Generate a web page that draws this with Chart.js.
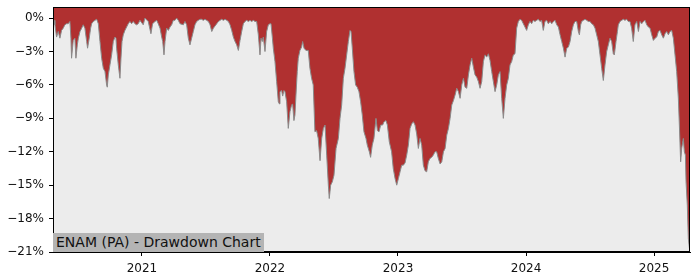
<!DOCTYPE html>
<html>
<head>
<meta charset="utf-8">
<script src="https://cdn.jsdelivr.net/npm/chart.js@4/dist/chart.umd.min.js"></script>
<style>
  html, body { margin: 0; padding: 0; background: #ffffff; }
  #wrap { position: relative; width: 700px; height: 280px; }
  #title {
    position: absolute; left: 53px; top: 233px; height: 19px; line-height: 19px;
    padding: 0 3px 0 3px; background: #b4b4b4; color: #111;
    font-family: "DejaVu Sans", sans-serif; font-size: 14px; white-space: nowrap;
  }
</style>
</head>
<body>
<div id="wrap">
  <canvas id="c" width="700" height="280"></canvas>
  <div id="title">ENAM (PA) - Drawdown Chart</div>
</div>
<script>
// Dates as decimal years, drawdown in percent
const years = [
2020.305,2020.313,2020.320,2020.333,2020.346,2020.359,2020.372,2020.385,2020.398,2020.411,
2020.424,2020.437,2020.445,2020.450,2020.463,2020.476,2020.484,2020.495,2020.503,2020.516,
2020.529,2020.541,2020.554,2020.568,2020.575,2020.588,2020.599,2020.607,2020.620,2020.633,
2020.646,2020.659,2020.672,2020.685,2020.698,2020.711,2020.724,2020.729,2020.737,2020.750,
2020.763,2020.776,2020.789,2020.797,2020.802,2020.815,2020.828,2020.836,2020.844,2020.854,
2020.867,2020.880,2020.893,2020.906,2020.919,2020.932,2020.945,2020.958,2020.971,2020.984,
2021.010,2021.023,2021.049,2021.070,2021.083,2021.102,2021.115,2021.127,2021.141,2021.154,
2021.162,2021.172,2021.180,2021.193,2021.206,2021.219,2021.232,2021.245,2021.258,2021.271,
2021.284,2021.297,2021.323,2021.336,2021.349,2021.362,2021.375,2021.388,2021.401,2021.414,
2021.427,2021.440,2021.453,2021.466,2021.479,2021.492,2021.505,2021.519,2021.532,2021.545,
2021.558,2021.571,2021.584,2021.597,2021.610,2021.623,2021.636,2021.649,2021.662,2021.675,
2021.688,2021.701,2021.714,2021.727,2021.740,2021.753,2021.766,2021.779,2021.792,2021.805,
2021.818,2021.831,2021.844,2021.857,2021.870,2021.883,2021.896,2021.909,2021.922,2021.930,
2021.940,2021.948,2021.961,2021.974,2021.987,2022.000,2022.008,2022.019,2022.026,2022.039,
2022.052,2022.065,2022.073,2022.078,2022.091,2022.099,2022.109,2022.117,2022.130,2022.143,
2022.156,2022.169,2022.177,2022.187,2022.195,2022.203,2022.213,2022.221,2022.234,2022.247,
2022.255,2022.266,2022.281,2022.299,2022.312,2022.325,2022.338,2022.351,2022.364,2022.377,
2022.391,2022.404,2022.417,2022.430,2022.443,2022.456,2022.463,2022.474,2022.487,2022.500,
2022.516,2022.534,2022.547,2022.560,2022.573,2022.586,2022.599,2022.612,2022.625,2022.633,
2022.643,2022.656,2022.669,2022.682,2022.695,2022.708,2022.721,2022.734,2022.750,2022.760,
2022.776,2022.786,2022.799,2022.812,2022.828,2022.839,2022.852,2022.865,2022.880,2022.891,
2022.906,2022.917,2022.932,2022.950,2022.963,2022.977,2022.990,2023.003,2023.016,2023.029,
2023.042,2023.055,2023.068,2023.081,2023.094,2023.107,2023.120,2023.133,2023.146,2023.159,
2023.172,2023.185,2023.198,2023.211,2023.224,2023.237,2023.250,2023.263,2023.276,2023.289,
2023.302,2023.315,2023.329,2023.342,2023.355,2023.368,2023.381,2023.394,2023.407,2023.420,
2023.433,2023.446,2023.459,2023.472,2023.485,2023.498,2023.511,2023.524,2023.537,2023.550,
2023.563,2023.576,2023.589,2023.602,2023.615,2023.628,2023.641,2023.654,2023.667,2023.680,
2023.693,2023.706,2023.719,2023.732,2023.745,2023.758,2023.771,2023.784,2023.797,2023.810,
2023.823,2023.836,2023.849,2023.862,2023.875,2023.888,2023.901,2023.914,2023.927,2023.940,
2023.953,2023.966,2023.979,2023.992,2024.005,2024.018,2024.031,2024.044,2024.057,2024.070,
2024.083,2024.096,2024.109,2024.122,2024.135,2024.148,2024.161,2024.174,2024.188,2024.201,
2024.214,2024.227,2024.240,2024.253,2024.266,2024.279,2024.292,2024.305,2024.318,2024.331,
2024.344,2024.357,2024.370,2024.383,2024.396,2024.409,2024.417,2024.427,2024.435,2024.448,
2024.461,2024.474,2024.487,2024.500,2024.513,2024.526,2024.539,2024.552,2024.565,2024.578,
2024.591,2024.604,2024.617,2024.630,2024.643,2024.656,2024.669,2024.682,2024.690,2024.703,
2024.714,2024.721,2024.734,2024.747,2024.760,2024.773,2024.786,2024.799,2024.812,2024.825,
2024.838,2024.851,2024.865,2024.878,2024.891,2024.904,2024.917,2024.930,2024.943,2024.956,
2024.969,2024.982,2024.995,2025.008,2025.021,2025.034,2025.047,2025.060,2025.073,2025.086,
2025.099,2025.112,2025.125,2025.138,2025.151,2025.164,2025.177,2025.190,2025.198,2025.208,
2025.216,2025.229,2025.237,2025.245,2025.250,2025.260,2025.268,2025.278
];
const drawdown = [
0,-0.2,-0.6,-1.7,-1.2,-1.8,-1.1,-0.9,-0.6,-0.5,
-0.5,-0.3,-1.8,-3.6,-2.0,-1.8,-3.6,-2.4,-1.8,-1.2,
-0.9,-0.6,-0.9,-2.1,-2.7,-1.8,-0.9,-0.5,-0.3,-0.2,
-0.1,-0.5,-2.1,-3.6,-4.5,-4.8,-6.0,-6.2,-5.1,-4.2,
-3.3,-2.1,-1.7,-1.8,-2.7,-4.2,-5.4,-3.6,-2.1,-1.5,
-1.1,-0.8,-0.5,-0.3,-0.5,-0.3,-0.5,-0.6,-0.5,-0.2,
-0.6,0,-0.3,-1.4,-0.5,-0.3,-0.2,-0.5,-0.9,-1.7,
-2.1,-3.3,-2.1,-0.9,-1.1,-0.8,-0.6,-0.2,-0.2,0,
-0.2,-0.5,-0.6,-0.3,-0.6,-1.8,-2.4,-1.8,-1.2,-0.6,
-0.3,-0.2,-0.1,-0.1,-0.2,-0.1,-0.2,-0.3,-0.6,-1.2,
-0.9,-0.7,-0.5,-0.3,-0.2,-0.1,-0.2,-0.1,-0.2,-0.3,
-0.6,-1.1,-1.7,-2.1,-2.4,-2.9,-2.0,-1.2,-0.5,-0.3,
-0.2,-0.3,-0.2,-0.3,-0.2,-0.3,-0.3,-1.5,-3.3,-1.8,
-2.1,-1.7,-3.0,-1.2,-0.6,-0.5,-0.5,-1.8,-2.7,-3.9,
-5.7,-7.5,-7.7,-6.6,-6.5,-7.0,-6.5,-6.6,-7.5,-9.9,
-8.4,-7.8,-7.7,-9.2,-8.7,-6.9,-4.8,-3.6,-2.9,-2.6,
-2.1,-2.7,-2.9,-2.9,-4.5,-5.4,-6.0,-10.2,-10.1,-10.8,
-12.8,-10.8,-9.9,-9.6,-12.3,-15.0,-16.2,-15.0,-14.7,-14.1,
-11.7,-10.8,-9.0,-7.8,-5.4,-4.5,-3.3,-2.1,-1.1,-1.2,
-2.7,-4.8,-6.0,-6.2,-6.6,-7.5,-8.7,-10.2,-10.8,-11.4,
-12.0,-12.5,-11.4,-10.8,-9.0,-10.1,-10.2,-9.6,-9.6,-9.3,
-9.2,-9.6,-11.1,-12.0,-13.5,-14.4,-15.0,-14.4,-13.8,-13.2,
-13.2,-13.0,-12.3,-11.4,-9.9,-9.5,-9.3,-9.6,-10.4,-11.7,
-10.8,-11.4,-13.2,-13.7,-13.8,-12.9,-12.6,-12.5,-12.3,-12.0,
-12.0,-12.6,-13.1,-12.9,-12.0,-11.7,-10.5,-9.9,-9.0,-7.8,
-7.4,-6.9,-6.3,-6.6,-7.2,-6.0,-5.4,-6.2,-6.3,-5.1,
-4.2,-3.6,-4.4,-5.1,-5.3,-5.7,-6.3,-5.7,-3.9,-3.3,
-3.5,-3.2,-3.8,-4.8,-5.7,-6.6,-6.0,-5.1,-4.8,-7.2,
-9.0,-7.2,-6.0,-5.4,-4.2,-3.9,-3.3,-3.2,-0.9,-0.3,
-0.1,-0.2,-0.5,-0.8,-1.1,-0.6,-0.3,-0.5,-0.2,-0.3,
-0.2,-0.1,-0.3,-0.2,-1.1,-0.3,-0.2,-0.5,-0.3,-0.5,
-0.3,-0.2,-0.6,-0.8,-1.5,-2.1,-2.7,-3.5,-2.7,-2.6,
-2.1,-1.2,-0.6,-0.3,-0.3,-1.2,-1.5,-0.6,-0.3,-0.2,
-0.1,-0.2,-0.3,-0.3,-0.5,-0.6,-0.9,-1.5,-2.1,-3.3,
-4.5,-5.6,-4.2,-3.0,-2.4,-1.8,-2.1,-3.2,-3.3,-2.1,
-1.2,-0.6,-0.3,-0.2,-0.1,-0.2,-0.1,-0.3,-0.3,-0.9,
-2.1,-0.6,-0.3,-1.2,-0.3,-0.5,-0.3,-0.2,-0.6,-0.8,
-0.9,-1.5,-2.0,-1.8,-1.7,-1.2,-1.1,-1.5,-1.8,-1.4,
-1.2,-1.5,-1.2,-1.1,-1.8,-3.3,-4.8,-7.2,-9.6,-12.9,
-11.7,-10.8,-12.0,-12.3,-14.7,-16.8,-19.8,-20.8
];
const xTickYears = [2021, 2022, 2023, 2024, 2025];
const yTicks = [0, -3, -6, -9, -12, -15, -18, -21];
const xRange = [2020.305, 2025.281];
const yRange = [-21, 1];

const points = years.map((x, i) => ({ x: x, y: drawdown[i] }));

const frame = {
  id: 'frame',
  beforeDraw(chart) {
    const a = chart.chartArea, ctx = chart.ctx;
    ctx.save();
    ctx.fillStyle = '#ececec';
    ctx.fillRect(a.left, a.top, a.right - a.left, a.bottom - a.top);
    ctx.restore();
  },
  afterDraw(chart) {
    const a = chart.chartArea, ctx = chart.ctx;
    ctx.save();
    ctx.strokeStyle = '#000';
    ctx.lineWidth = 1;
    ctx.strokeRect(Math.round(a.left) + 0.5, Math.round(a.top) + 0.5,
                   Math.round(a.right - a.left) - 1, Math.round(a.bottom - a.top) - 1);
    ctx.restore();
  }
};

new Chart(document.getElementById('c'), {
  type: 'line',
  data: {
    datasets: [{
      data: points,
      parsing: false,
      fill: 'end',
      backgroundColor: '#b03030',
      borderColor: '#8a8a8a',
      borderWidth: 1,
      pointRadius: 0,
      tension: 0
    }]
  },
  options: {
    responsive: false,
    animation: false,
    events: [],
    layout: { padding: { top: 7, right: 10, left: 0, bottom: 0 } },
    plugins: { legend: { display: false }, tooltip: { enabled: false } },
    scales: {
      x: {
        type: 'linear',
        min: xRange[0], max: xRange[1],
        afterBuildTicks: s => { s.ticks = xTickYears.map(v => ({ value: v })); },
        afterFit: s => { s.height = 28; s.paddingLeft = 0; s.paddingRight = 0; },
        grid: { drawOnChartArea: false, tickLength: 4, color: '#000', tickWidth: 1 },
        border: { display: true, color: '#000', width: 1 },
        ticks: {
          color: '#111', padding: 6, maxRotation: 0,
          font: { family: 'DejaVu Sans', size: 12 },
          callback: v => String(v)
        }
      },
      y: {
        type: 'linear',
        min: yRange[0], max: yRange[1],
        afterBuildTicks: s => { s.ticks = yTicks.map(v => ({ value: v })); },
        afterFit: s => { s.width = 53; s.paddingTop = 0; s.paddingBottom = 0; },
        grid: { drawOnChartArea: false, tickLength: 4, color: '#000', tickWidth: 1 },
        border: { display: true, color: '#000', width: 1 },
        ticks: {
          color: '#111', padding: 5,
          font: { family: 'DejaVu Sans', size: 12 },
          callback: v => (v < 0 ? '\u2212' : '') + Math.abs(v) + '%'
        }
      }
    }
  },
  plugins: [frame]
});
</script>
</body>
</html>
